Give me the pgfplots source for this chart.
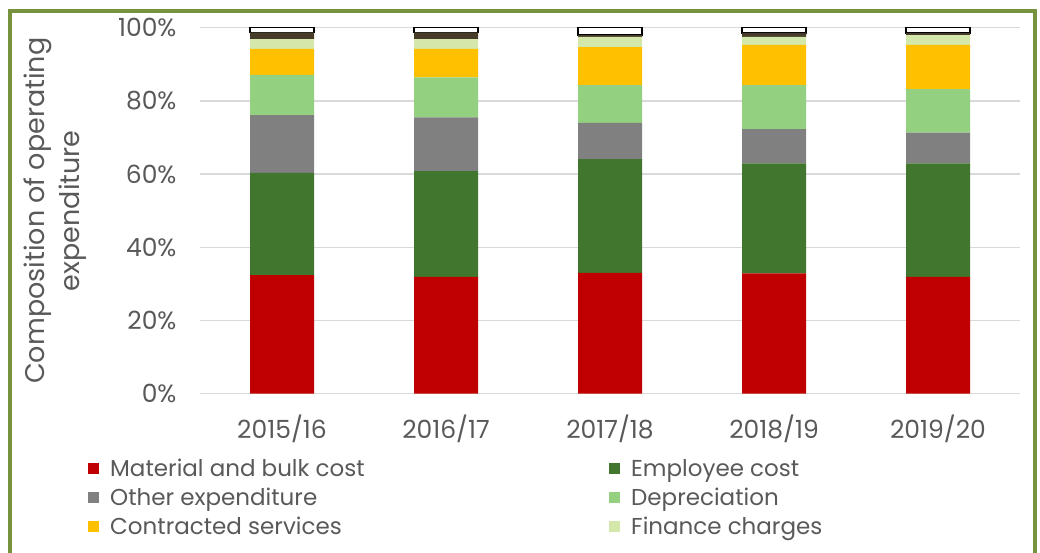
\documentclass[border=0pt]{standalone}
\usepackage{fontspec}
\setmainfont{Poppins}
\usepackage{pgfplots}
\pgfplotsset{compat=1.18}
\definecolor{cRed}{HTML}{C00000}
\definecolor{cDG}{HTML}{40762D}
\definecolor{cGray}{HTML}{808080}
\definecolor{cLG}{HTML}{93D07F}
\definecolor{cYel}{HTML}{FFC000}
\definecolor{cPale}{HTML}{D4E8AC}
\definecolor{cBrown}{HTML}{473C2A}
\definecolor{cText}{HTML}{595959}
\definecolor{cGrid}{HTML}{D9D9D9}
\definecolor{cFrame}{HTML}{76923C}
\begin{document}
\begin{tikzpicture}[x=1pt,y=1pt]
\useasboundingbox (0,0) rectangle (1040,553);
\clip (0,0) rectangle (1040,553);
\draw[cFrame, line width=4pt] (10,542) -- (1035,542) -- (1035,-20) -- (10,-20) -- cycle;
\begin{axis}[
  at={(200pt,159.3pt)}, anchor=south west,
  scale only axis, width=820pt, height=366pt,
  ybar stacked, bar width=64pt,
  xmin=-0.5, xmax=4.5, ymin=0, ymax=100,
  xtick={0,1,2,3,4},
  xticklabels={2015/16,2016/17,2017/18,2018/19,2019/20},
  ytick={0,20,40,60,80,100},
  yticklabel={\pgfmathprintnumber{\tick}\%},
  /pgf/number format/assume math mode=true,
  axis line style={draw=none},
  major tick style={draw=none},
  ymajorgrids, grid style={cGrid, line width=1.3pt},
  tick label style={font=\fontsize{25}{28}\selectfont, text=cText},
  yticklabel style={xshift=-20pt},
  xticklabel style={yshift=-18pt},
  ylabel={Composition of operating\\expenditure},
  ylabel style={at={(axis description cs:-0.176,0.5)}, anchor=center, align=center, font=\fontsize{27}{35}\selectfont, text=cText},
  legend columns=2,
  legend cell align=left,
  legend style={at={(axis description cs:-0.1366,-0.172)}, anchor=north west, draw=none, fill=none, inner sep=0pt, font=\fontsize{23}{26}\selectfont, text=cText, row sep=6pt,
    /tikz/every odd column/.append style={column sep=9pt}},
  legend image code/.code={\fill[#1] (0pt,-5.5pt) rectangle (11pt,5.5pt);},
]
\addplot[fill=cRed, draw=none] coordinates {(0,32.4) (1,31.9) (2,33.0) (3,32.9) (4,31.9)};
\addlegendentry{\makebox[497pt][l]{Material and bulk cost}}
\addplot[fill=cDG, draw=none] coordinates {(0,27.9) (1,28.9) (2,31.1) (3,30.0) (4,31.0)};
\addlegendentry{Employee cost}
\addplot[fill=cGray, draw=none] coordinates {(0,15.8) (1,14.7) (2,9.9) (3,9.4) (4,8.4)};
\addlegendentry{\makebox[497pt][l]{Other expenditure}}
\addplot[fill=cLG, draw=none] coordinates {(0,11.0) (1,10.9) (2,10.3) (3,12.0) (4,11.9)};
\addlegendentry{Depreciation}
\addplot[fill=cYel, draw=none] coordinates {(0,7.1) (1,7.8) (2,10.4) (3,11.0) (4,12.1)};
\addlegendentry{\makebox[497pt][l]{Contracted services}}
\addplot[fill=cPale, draw=none] coordinates {(0,2.7) (1,2.7) (2,2.8) (3,2.2) (4,2.7)};
\addlegendentry{Finance charges}
\addplot[fill=cBrown, draw=none, forget plot] coordinates {(0,1.8) (1,1.8) (2,0.5) (3,1.1) (4,0.5)};
\addplot[fill=white, draw=black, line width=1.6pt, forget plot] coordinates {(0,1.3) (1,1.3) (2,2.0) (3,1.4) (4,1.5)};
\end{axis}
\end{tikzpicture}
\end{document}
